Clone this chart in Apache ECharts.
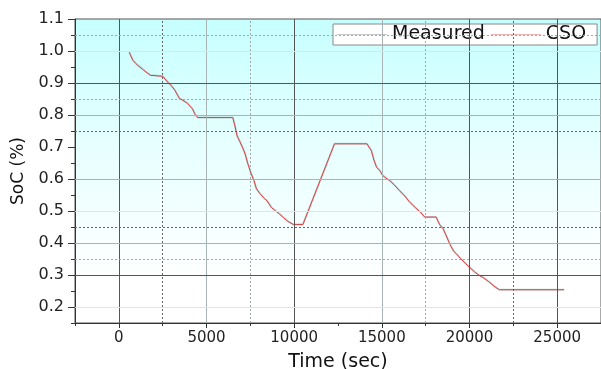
<!DOCTYPE html>
<html>
<head>
<meta charset="utf-8">
<script src="https://cdn.jsdelivr.net/npm/echarts@6/dist/echarts.min.js"></script>
<style>
    html, body { margin: 0; padding: 0; background: #fff; }
    #SocChart { width: 601px; height: 369px; }
</style>
</head>
<body>
<div id="SocChart"></div>
<script>
// time axis (sec)
var timeSec = [600, 650, 800, 950, 1100, 1200, 1400, 1600, 1800, 1900, 2500, 2600, 2800, 3000, 3200, 3450, 3650, 3900, 4200, 4350, 4500,
    6500, 6600, 6750, 6900, 7050, 7200, 7350, 7550, 7700, 7850, 8050, 8300, 8450, 8700, 8900, 9150, 9400, 9650, 9950, 10500,
    12300, 14150, 14300, 14400, 14550, 14700, 14900, 15050, 15300, 15450, 15700, 16000, 16300, 16600, 16900, 17200, 17450, 18100,
    18300, 18500, 18700, 18900, 19100, 19250, 19500, 19750, 20000, 20300, 20550, 20800, 21100, 21400, 21700, 25400];

// measured SoC
var measuredSoc = [0.997, 0.990, 0.972, 0.962, 0.955, 0.949, 0.942, 0.933, 0.925, 0.921, 0.921, 0.917, 0.903, 0.892, 0.878, 0.853, 0.846, 0.838, 0.820, 0.803, 0.792,
    0.792, 0.772, 0.735, 0.718, 0.700, 0.680, 0.650, 0.617, 0.597, 0.570, 0.555, 0.540, 0.533, 0.512, 0.503, 0.492, 0.480, 0.468, 0.458, 0.458,
    0.710, 0.710, 0.698, 0.690, 0.660, 0.638, 0.626, 0.612, 0.601, 0.596, 0.583, 0.565, 0.548, 0.528, 0.512, 0.497, 0.481, 0.481,
    0.458, 0.445, 0.420, 0.395, 0.375, 0.367, 0.352, 0.338, 0.325, 0.310, 0.300, 0.292, 0.280, 0.266, 0.254, 0.254];

// CSO estimate
var csoSoc = [0.996, 0.989, 0.971, 0.962, 0.954, 0.948, 0.941, 0.932, 0.924, 0.921, 0.921, 0.916, 0.902, 0.891, 0.877, 0.852, 0.846, 0.837, 0.819, 0.802, 0.792,
    0.792, 0.771, 0.734, 0.717, 0.699, 0.679, 0.649, 0.616, 0.596, 0.569, 0.554, 0.539, 0.532, 0.511, 0.502, 0.491, 0.479, 0.467, 0.458, 0.458,
    0.710, 0.710, 0.697, 0.689, 0.659, 0.637, 0.625, 0.611, 0.600, 0.595, 0.582, 0.564, 0.547, 0.527, 0.511, 0.496, 0.481, 0.481,
    0.457, 0.444, 0.419, 0.394, 0.374, 0.366, 0.351, 0.337, 0.324, 0.309, 0.299, 0.291, 0.279, 0.265, 0.254, 0.254];

var seriesNames = ['Measured', 'CSO'];

// tick labels
var xMajorTicks = [0, 5000, 10000, 15000, 20000, 25000];
var xMinorTicks = [-2500, 2500, 7500, 12500, 17500, 22500];
var yMajorTicks = [0.2, 0.3, 0.4, 0.5, 0.6, 0.7, 0.8, 0.9, 1.0, 1.1];
var yMinorTicks = [0.15, 0.25, 0.35, 0.45, 0.55, 0.65, 0.75, 0.85, 0.95, 1.05];

function pairs(xs, ys) {
    var out = [];
    for (var i = 0; i < xs.length; i++) {
        out.push([xs[i], ys[i]]);
    }
    return out;
}

// gridline look (mixed, like the origin plot)
var darkSolid = { color: '#555', width: 1, type: 'solid' };
var midSolid = { color: '#a8b4b4', width: 1, type: 'solid' };
var lightSolid = { color: '#d8e8e8', width: 1, type: 'solid' };
var darkDash = { color: '#666', width: 1, type: [2, 2] };
var lightDash = { color: '#a0a8a8', width: 1, type: [2, 2] };

var gridMarks = [
    { xAxis: 0, lineStyle: darkSolid },
    { xAxis: 2500, lineStyle: darkDash },
    { xAxis: 5000, lineStyle: midSolid },
    { xAxis: 7500, lineStyle: lightDash },
    { xAxis: 10000, lineStyle: darkSolid },
    { xAxis: 15000, lineStyle: midSolid },
    { xAxis: 17500, lineStyle: lightDash },
    { xAxis: 20000, lineStyle: darkSolid },
    { xAxis: 22500, lineStyle: darkDash },
    { xAxis: 25000, lineStyle: darkSolid },
    { yAxis: 1.05, lineStyle: lightDash },
    { yAxis: 1.0, lineStyle: lightSolid },
    { yAxis: 0.9, lineStyle: darkSolid },
    { yAxis: 0.85, lineStyle: lightDash },
    { yAxis: 0.8, lineStyle: midSolid },
    { yAxis: 0.75, lineStyle: darkDash },
    { yAxis: 0.6, lineStyle: midSolid },
    { yAxis: 0.5, lineStyle: lightSolid },
    { yAxis: 0.45, lineStyle: darkDash },
    { yAxis: 0.4, lineStyle: midSolid },
    { yAxis: 0.35, lineStyle: lightDash },
    { yAxis: 0.3, lineStyle: darkSolid },
    { yAxis: 0.2, lineStyle: lightSolid }
];

var fontName = 'DejaVu Sans';

function drawSocChart() {
    var dom = document.getElementById("SocChart");
    var myChart = echarts.init(dom, null, { renderer: 'canvas' });
    var option = null;

    var xBase = {
        type: 'value', min: -2500, max: 27500, gridIndex: 0, position: 'bottom', offset: 0,
        splitLine: { show: false }
    };
    var yBase = {
        type: 'value', min: 0.15, max: 1.1, gridIndex: 0, position: 'left', offset: 0,
        splitLine: { show: false }
    };

    option = {
        animation: false,
        grid: {
            left: 75, right: 0, top: 19, bottom: 46,
            outerBoundsMode: 'none',
            containLabel: false,
            show: true,
            borderColor: '#555',
            borderWidth: 1,
            backgroundColor: new echarts.graphic.LinearGradient(0, 0, 0, 1, [
                { offset: 0, color: '#c6ffff' },
                { offset: 0.4, color: '#e6ffff' },
                { offset: 0.7, color: '#f7ffff' },
                { offset: 0.86, color: '#ffffff' },
                { offset: 1, color: '#ffffff' }
            ])
        },
        legend: {
            data: [
                { name: seriesNames[0], itemStyle: { color: '#c8c8c8' } },
                { name: seriesNames[1], itemStyle: { color: '#f4b4b4' } }
            ],
            left: 333, top: 24,
            icon: 'rect',
            itemWidth: 50, itemHeight: 1,
            itemGap: 6,
            padding: [1, 11, 1, 4],
            backgroundColor: '#fff',
            borderColor: '#888',
            borderWidth: 1,
            borderRadius: 0,
            textStyle: { color: '#111', fontFamily: fontName, fontSize: 19 }
        },
        xAxis: [
            Object.assign({}, xBase, {
                name: 'Time (sec)',
                nameLocation: 'middle',
                nameGap: 30,
                nameTextStyle: { color: '#111', fontFamily: fontName, fontSize: 19 },
                axisLine: { show: true, onZero: false, lineStyle: { color: '#333', width: 1 } },
                axisTick: { show: true, length: 5, customValues: xMajorTicks, lineStyle: { color: '#333' } },
                axisLabel: {
                    show: true, margin: 8, customValues: xMajorTicks, color: '#222', fontFamily: fontName, fontSize: 15,
                    formatter: function (v) { return String(v); }
                }
            }),
            Object.assign({}, xBase, {
                axisLine: { show: false, onZero: false },
                axisTick: { show: true, length: 3, customValues: xMinorTicks, lineStyle: { color: '#333' } },
                axisLabel: { show: false }
            })
        ],
        yAxis: [
            Object.assign({}, yBase, {
                name: 'SoC (%)',
                nameLocation: 'middle',
                nameGap: 48,
                nameTextStyle: { color: '#111', fontFamily: fontName, fontSize: 17 },
                axisLine: { show: true, onZero: false, lineStyle: { color: '#333', width: 1 } },
                axisTick: { show: true, length: 7, customValues: yMajorTicks, lineStyle: { color: '#333' } },
                axisLabel: {
                    show: true, margin: 11, customValues: yMajorTicks, color: '#222', fontFamily: fontName, fontSize: 16,
                    formatter: function (v) { return v.toFixed(1); }
                }
            }),
            Object.assign({}, yBase, {
                axisLine: { show: false, onZero: false },
                axisTick: { show: true, length: 4, customValues: yMinorTicks, lineStyle: { color: '#333' } },
                axisLabel: { show: false }
            })
        ],
        series: [
            {
                // grid lines only
                name: 'grid', type: 'line', data: [], z: 1,
                silent: true,
                markLine: {
                    silent: true, symbol: 'none',
                    label: { show: false },
                    animation: false,
                    data: gridMarks
                }
            },
            {
                name: seriesNames[0], type: 'line', z: 3,
                data: pairs(timeSec, measuredSoc),
                showSymbol: false,
                lineStyle: { color: 'rgba(150,170,170,0.45)', width: 2 },
                itemStyle: { color: '#c8c8c8' }
            },
            {
                name: seriesNames[1], type: 'line', z: 4,
                data: pairs(timeSec, csoSoc),
                showSymbol: false,
                lineStyle: { color: '#dc4040', width: 1 },
                itemStyle: { color: '#f4b4b4' }
            }
        ]
    };

    if (option && typeof option === "object") {
        myChart.setOption(option, true);
    }
}

drawSocChart();
</script>
</body>
</html>
